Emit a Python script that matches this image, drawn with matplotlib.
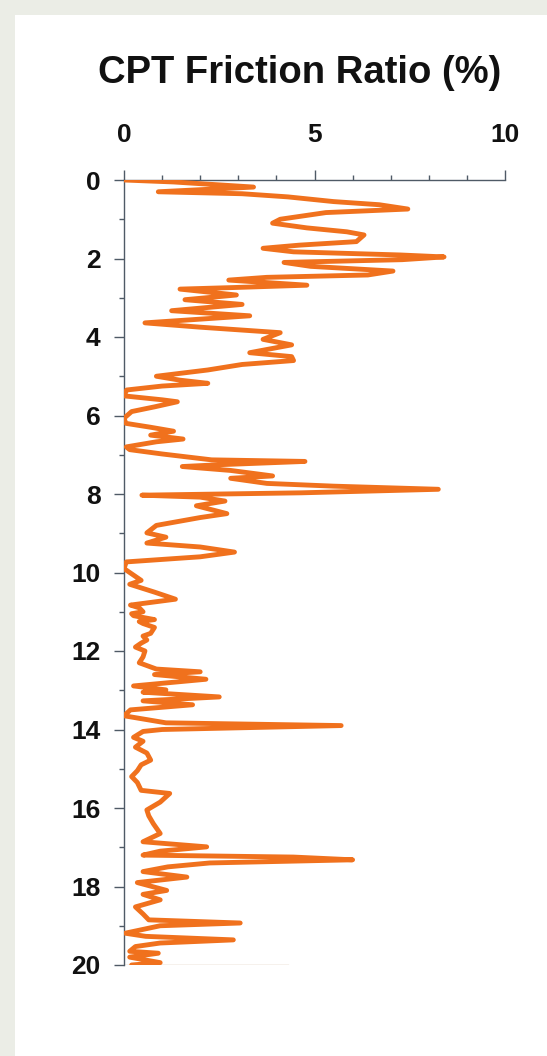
import matplotlib.pyplot as plt
from matplotlib.patches import Rectangle
from matplotlib.ticker import MultipleLocator

plt.rcParams['font.family'] = ['Liberation Sans', 'DejaVu Sans']

# CPT sounding: depth (m) and friction ratio (%)
depth = [0.00, 0.05, 0.18, 0.30, 0.35, 0.43, 0.55, 0.63, 0.74, 0.83,
         1.00, 1.10, 1.22, 1.32, 1.40, 1.57, 1.66, 1.74, 1.83, 1.91,
         1.96, 2.03, 2.10, 2.20, 2.32, 2.42, 2.48, 2.55, 2.68, 2.74,
         2.78, 2.93, 3.05, 3.17, 3.33, 3.46, 3.64, 3.75, 3.89, 4.06,
         4.20, 4.40, 4.50, 4.60, 4.70, 4.84, 5.00, 5.10, 5.18, 5.25,
         5.35, 5.50, 5.60, 5.65, 5.78, 5.90, 6.07, 6.20, 6.30, 6.40,
         6.50, 6.60, 6.67, 6.80, 6.87, 6.98, 7.05, 7.13, 7.17, 7.25,
         7.30, 7.40, 7.54, 7.60, 7.73, 7.80, 7.88, 7.97, 8.03, 8.08,
         8.18, 8.30, 8.40, 8.50, 8.60, 8.80, 8.99, 9.10, 9.25, 9.35,
         9.48, 9.60, 9.73, 9.90, 10.10, 10.20, 10.30, 10.50, 10.68, 10.83,
         10.90, 11.00, 11.05, 11.10, 11.20, 11.25, 11.30, 11.40, 11.55, 11.62,
         11.72, 11.80, 11.90, 12.00, 12.15, 12.30, 12.46,
         12.53, 12.60, 12.72, 12.89, 12.99, 13.05, 13.17, 13.27, 13.37, 13.50,
         13.65, 13.83, 13.90, 14.00, 14.05, 14.20, 14.30, 14.45, 14.60, 14.78,
         14.90, 15.05, 15.20, 15.35, 15.55,
         15.63, 15.85, 16.05, 16.20, 16.40, 16.65, 16.86, 16.99, 17.10, 17.20,
         17.25, 17.32, 17.40, 17.50, 17.62, 17.76, 17.90, 18.10, 18.20, 18.34,
         18.52, 18.70, 18.85, 18.93, 19.00, 19.19, 19.27, 19.36, 19.44, 19.53,
         19.65, 19.70, 19.80, 19.94, 20.00]
ratio = [0.0, 1.3, 3.4, 0.9, 3.1, 4.3, 5.5, 6.7, 7.45, 5.3,
         4.1, 3.9, 4.8, 5.85, 6.3, 6.1, 4.6, 3.65, 4.45, 7.25,
         8.4, 7.3, 4.2, 4.9, 7.06, 6.4, 3.75, 2.75, 4.8, 2.87,
         1.47, 2.95, 1.6, 3.1, 1.25, 3.3, 0.55, 2.0, 4.1, 3.65,
         4.4, 3.3, 4.4, 4.45, 3.1, 2.2, 0.85, 1.47, 2.2, 1.0,
         0.07, 0.0, 1.0, 1.4, 0.8, 0.2, 0.0, 0.05, 0.7, 1.3,
         0.7, 1.55, 0.85, 0.06, 0.15, 1.0, 1.6, 2.3, 4.75, 2.6,
         1.53, 2.8, 3.9, 2.8, 3.75, 5.5, 8.25, 4.65, 0.47, 2.0,
         2.65, 1.9, 2.3, 2.7, 2.0, 0.85, 0.6, 1.1, 0.6, 2.0,
         2.9, 2.0, 0.06, 0.0, 0.3, 0.45, 0.15, 0.8, 1.35, 0.17,
         0.4, 0.5, 0.2, 0.25, 0.8, 0.4, 0.5, 0.8, 0.7, 0.5,
         0.6, 0.45, 0.3, 0.55, 0.5, 0.4, 0.85,
         2.0, 0.8, 2.15, 0.25, 1.1, 0.5, 2.5, 0.5, 1.8, 0.17,
         0.0, 1.1, 5.7, 1.0, 0.5, 0.25, 0.5, 0.3, 0.6, 0.7,
         0.45, 0.35, 0.2, 0.35, 0.45,
         1.2, 0.95, 0.6, 0.65, 0.77, 0.95, 0.5, 2.17, 0.95, 0.5,
         4.45, 6.0, 2.25, 1.15, 0.5, 1.65, 0.35, 1.12, 0.5, 0.95,
         0.3, 0.5, 0.65, 3.05, 0.95, 0.03, 0.57, 2.87, 0.95, 0.3,
         0.15, 0.9, 0.15, 0.95, 0.2]

# final reading at the bottom of the hole
end_depth = [20.0, 20.0]
end_ratio = [0.0, 4.3]

W, H = 547, 1056
fig = plt.figure(figsize=(W / 100, H / 100), dpi=100, facecolor='#ebede6')
fig.patches.append(Rectangle((15 / W, 0), 1, 1 - 15 / H, transform=fig.transFigure,
                             facecolor='white', edgecolor='none', zorder=-10))

ax = fig.add_axes([124 / W, 1 - 965 / H, (505 - 124) / W, (965 - 180) / H])
ax.set_facecolor('none')

ax.plot(ratio, depth, color='#f0711d', lw=3.5, solid_joinstyle='round',
        solid_capstyle='round', zorder=3)
ax.plot(end_ratio, end_depth, color='#b8966a', lw=0.9, zorder=2)

ax.set_xlim(0, 10)
ax.set_ylim(20, 0)

ax.xaxis.set_ticks_position('top')
ax.xaxis.set_major_locator(MultipleLocator(5))
ax.xaxis.set_minor_locator(MultipleLocator(1))
ax.yaxis.set_major_locator(MultipleLocator(2))
ax.yaxis.set_minor_locator(MultipleLocator(1))

spine_col = '#4f5a66'
for side in ['right', 'bottom']:
    ax.spines[side].set_visible(False)
for side in ['left', 'top']:
    ax.spines[side].set_color(spine_col)
    ax.spines[side].set_linewidth(1)

ax.tick_params(which='major', length=7, width=1, color=spine_col)
ax.tick_params(which='minor', length=3.5, width=1, color=spine_col)
ax.tick_params(axis='x', which='major', pad=17)
ax.tick_params(axis='y', which='major', pad=10)
for lab in ax.get_xticklabels() + ax.get_yticklabels():
    lab.set_fontsize(19)
    lab.set_fontweight('bold')
    lab.set_color('#111111')

fig.text(300 / W, 1 - 83 / H, 'CPT Friction Ratio (%)', ha='center', va='baseline',
         fontsize=27.5, fontweight='bold', color='#111111')

fig.savefig('out.png', dpi=100, facecolor=fig.get_facecolor())
